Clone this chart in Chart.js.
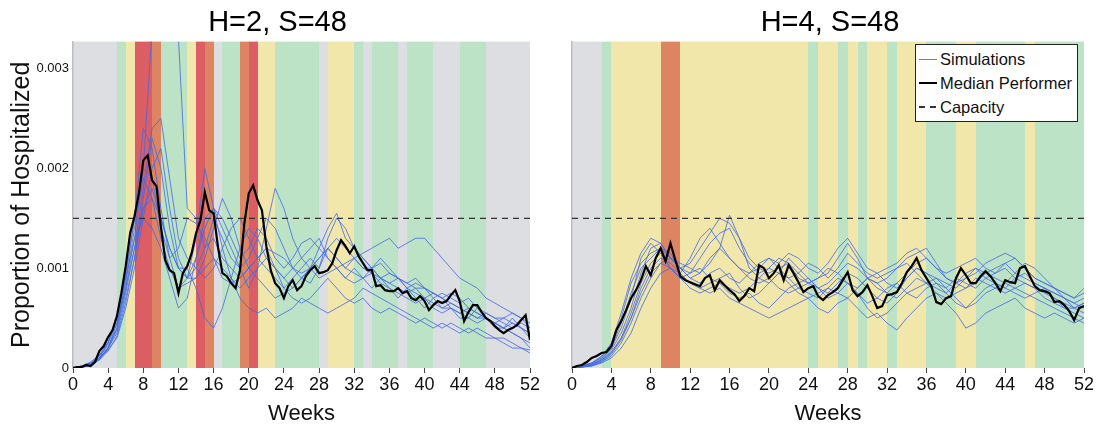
<!DOCTYPE html>
<html>
<head>
<meta charset="utf-8">
<script src="https://cdn.jsdelivr.net/npm/chart.js@4.4.1/dist/chart.umd.min.js"></script>
<style>
  html, body { margin: 0; padding: 0; background: #fff; overflow: hidden; width: 1096px; height: 428px; }
  #wrap { position: relative; width: 1096px; height: 428px; }
  #cL { position: absolute; left: 0; top: 0; }
  #cR { position: absolute; left: 564px; top: 0; }
  #legend { position: absolute; left: 915px; top: 44px; width: 161px; height: 74px; padding-top: 2px;
    border: 1.5px solid #222; background: #fff; font-family: "Liberation Sans", Arial, sans-serif; font-size: 16.5px; color: #111; }
  #legend .row { height: 24px; display: flex; align-items: center; white-space: nowrap; }
  #legend .sw { display: inline-block; width: 18px; margin: 0 3px 0 3px; }
  #legend .sim { height: 1px; background: rgba(65,105,225,0.85); }
  #legend .med { height: 2px; background: #000; }
  #legend .cap { height: 1.5px; background: repeating-linear-gradient(to right, #333 0 6px, transparent 6px 11px); }
</style>
</head>
<body>
<div id="wrap">
  <canvas id="cL" width="555" height="428"></canvas>
  <canvas id="cR" width="532" height="428"></canvas>
  <div id="legend">
    <div class="row"><span class="sw sim"></span><span>Simulations</span></div>
    <div class="row"><span class="sw med"></span><span>Median Performer</span></div>
    <div class="row"><span class="sw cap"></span><span>Capacity</span></div>
  </div>
</div>
<script>
// ---------- axis ticks ----------
const weekTicks = [0, 4, 8, 12, 16, 20, 24, 28, 32, 36, 40, 44, 48, 52];
const yTicks = [0, 0.001, 0.002, 0.003];
const yTickLabels = ['0', '0.001', '0.002', '0.003'];
const yMax = 0.00327;
const capacity = 0.0015;

// ---------- policy bands (week edges and level per band) ----------
const leftBandEdges = [0,5,6,7,9,10,13,14,15,16,17,19,20,21,23,28,29,32,33,34,37,38,41,44,47,52];
const leftBandLevels = ['gray','green','yellow','red','orange','green','yellow','red','orange','gray','green','orange','red','yellow','green','gray','yellow','green','gray','green','gray','green','gray','green','gray'];
const rightBandEdges = [0,3,4,9,11,24,25,27,28,29,30,32,33,36,39,41,46,47,52];
const rightBandLevels = ['gray','green','yellow','orange','yellow','green','yellow','green','yellow','green','yellow','green','yellow','green','yellow','green','yellow','green'];

// ---------- median performer (half-week steps, weeks 0..52) ----------
const medianLeft = [0,0.00001,0.00001,0.00003,0.00002,0.00006,0.00017,0.00022,0.00031,0.00038,
0.00052,0.00075,0.00102,0.00135,0.00152,0.00175,0.00208,0.00213,0.00188,0.00182,
0.00142,0.00108,0.00098,0.00095,0.00075,0.00095,0.00102,0.00115,0.00135,0.00148,
0.00176,0.00158,0.00155,0.00121,0.00095,0.00092,0.00085,0.0008,0.00098,0.00145,
0.00175,0.00183,0.00168,0.00158,0.00122,0.00098,0.00085,0.0008,0.0007,0.00082,
0.00088,0.00078,0.00082,0.00092,0.00098,0.00102,0.00095,0.00096,0.00098,0.00105,
0.00118,0.00128,0.00122,0.00115,0.00122,0.00112,0.00105,0.00098,0.00098,0.00082,
0.00083,0.00078,0.00077,0.00077,0.0008,0.00075,0.00077,0.0007,0.00068,0.00072,
0.00067,0.00058,0.00063,0.00067,0.00065,0.00067,0.00073,0.00078,0.00067,0.00047,
0.00056,0.00063,0.00063,0.00056,0.0005,0.00047,0.00042,0.00038,0.00035,0.00038,
0.0004,0.00043,0.00048,0.00053,0.00028];

const medianRight = [0,0.00002,0.00003,0.00006,0.0001,0.00012,0.00015,0.00016,0.00022,0.00038,
0.00047,0.00058,0.0007,0.00078,0.00088,0.00102,0.00093,0.0011,0.0012,0.00107,
0.00125,0.00108,0.00092,0.00088,0.00086,0.00084,0.00082,0.0009,0.00093,0.00078,
0.00088,0.00083,0.00078,0.00074,0.00067,0.00072,0.0008,0.00077,0.00103,0.001,
0.0009,0.00095,0.00103,0.00088,0.00103,0.00095,0.00086,0.00076,0.0008,0.00082,
0.00072,0.00068,0.00073,0.00076,0.0008,0.00088,0.00096,0.00078,0.00072,0.00076,
0.00083,0.00072,0.0006,0.00062,0.00073,0.00074,0.00076,0.00085,0.00096,0.00102,
0.0011,0.00098,0.0009,0.00082,0.00066,0.00064,0.0007,0.00072,0.0009,0.001,
0.00093,0.00085,0.00085,0.00092,0.00097,0.00092,0.00085,0.00077,0.00088,0.00086,
0.00085,0.001,0.00102,0.00092,0.00082,0.00078,0.00077,0.00075,0.00066,0.00067,
0.00063,0.00057,0.00048,0.0006,0.00062];

// ---------- simulations (weekly, weeks 0..52) ----------
const simL1 = [0,0.00002,0.00005,0.0001,0.0002,0.0004,0.0008,0.0013,0.002,0.0034,0.0046,0.0042,0.0033,0.0016,0.0015,0.0012,0.0013,0.0011,0.001,0.0009,0.001,0.0011,0.0012,0.001,0.0009,0.001,0.0011,0.0012,0.0013,0.0011,0.001,0.0009,0.001,0.0009,0.0008,0.0009,0.0008,0.0007,0.0008,0.0007,0.0006,0.0007,0.0006,0.0006,0.0005,0.0005,0.0006,0.0005,0.0004,0.0004,0.0005,0.0004,0.00035];
const simL2 = [0,0.00001,0.00004,0.0001,0.00025,0.00045,0.0008,0.0012,0.0018,0.0024,0.0025,0.0019,0.0013,0.0011,0.001,0.0009,0.001,0.0012,0.0014,0.0015,0.0013,0.0011,0.001,0.0009,0.0008,0.0009,0.001,0.0011,0.001,0.0012,0.0013,0.0012,0.0011,0.001,0.001,0.0009,0.00085,0.0008,0.00075,0.0008,0.0007,0.00065,0.0006,0.00065,0.0006,0.00055,0.0005,0.0005,0.00045,0.0004,0.00035,0.0003,0.00025];
const simL3 = [0,0.00002,0.00003,0.00012,0.00022,0.0004,0.0009,0.0015,0.0024,0.0022,0.0016,0.0011,0.0008,0.0009,0.0013,0.002,0.0016,0.0012,0.0009,0.0008,0.0009,0.001,0.0011,0.001,0.0009,0.0008,0.0009,0.001,0.0011,0.0012,0.0011,0.001,0.00095,0.0009,0.001,0.0011,0.001,0.0009,0.00085,0.0009,0.0008,0.00075,0.0007,0.00075,0.0007,0.0006,0.00055,0.0005,0.00045,0.0005,0.00045,0.0004,0.00035];
const simL4 = [0,0.00001,0.00003,0.00008,0.0002,0.00035,0.0007,0.0011,0.0016,0.0018,0.0015,0.0012,0.001,0.001,0.0008,0.0005,0.0004,0.0006,0.0009,0.0012,0.0014,0.0013,0.0011,0.001,0.0008,0.0007,0.00065,0.0007,0.0008,0.0009,0.0008,0.0007,0.00065,0.0007,0.0006,0.00055,0.0006,0.00055,0.0005,0.00045,0.0005,0.00045,0.0004,0.00045,0.0004,0.00035,0.0004,0.00035,0.0003,0.0003,0.00025,0.0002,0.00015];
const simL5 = [0,0.00002,0.00005,0.00012,0.00025,0.0005,0.0009,0.0013,0.0015,0.0014,0.0012,0.0009,0.0006,0.0007,0.0011,0.0015,0.0016,0.0014,0.0012,0.001,0.0008,0.001,0.0014,0.0018,0.0016,0.0013,0.0011,0.001,0.0009,0.00095,0.001,0.0009,0.00085,0.0009,0.00095,0.00085,0.0008,0.00075,0.0007,0.00065,0.0007,0.0006,0.00055,0.0006,0.00055,0.0005,0.00045,0.0005,0.00045,0.0004,0.00045,0.0004,0.0003];
const simL6 = [0,0.00001,0.00002,0.0001,0.00018,0.0003,0.0006,0.001,0.0015,0.002,0.0022,0.0016,0.0011,0.0009,0.0009,0.0011,0.0014,0.0017,0.0015,0.0012,0.001,0.0009,0.0008,0.0007,0.00075,0.0008,0.0009,0.001,0.0012,0.0014,0.00155,0.0013,0.0012,0.0011,0.001,0.00105,0.00095,0.0009,0.00085,0.0008,0.0008,0.00075,0.0007,0.00065,0.0006,0.00055,0.0005,0.00055,0.0005,0.00045,0.0004,0.00045,0.0004];
const simL7 = [0,0.00002,0.00004,0.0001,0.0002,0.00045,0.00085,0.0014,0.0019,0.0017,0.0013,0.001,0.0008,0.00085,0.0009,0.001,0.0011,0.001,0.0009,0.0007,0.0006,0.00055,0.0006,0.0005,0.00055,0.0006,0.0007,0.00065,0.0006,0.00055,0.0006,0.00065,0.0007,0.0008,0.00075,0.0007,0.00065,0.0006,0.00055,0.0005,0.00045,0.0004,0.00045,0.0004,0.00035,0.0004,0.00035,0.0003,0.0003,0.00025,0.0002,0.0002,0.00018];
const simL8 = [0,0.00001,0.00003,0.00009,0.0002,0.00038,0.00075,0.0012,0.0016,0.0017,0.0015,0.0012,0.001,0.0009,0.0011,0.0014,0.0016,0.0015,0.0013,0.0011,0.0012,0.0014,0.0013,0.0011,0.001,0.0011,0.00125,0.0013,0.0012,0.0011,0.001,0.00105,0.0011,0.001,0.00095,0.0009,0.00095,0.0009,0.0008,0.00085,0.0008,0.0007,0.00075,0.0007,0.00065,0.0007,0.0006,0.00055,0.0005,0.0005,0.00055,0.0005,0.00045];
const simL9 = [0,0.00002,0.00006,0.00013,0.00026,0.0005,0.00095,0.0015,0.002,0.0019,0.0014,0.0011,0.0012,0.0015,0.00145,0.0013,0.0011,0.0009,0.00085,0.0009,0.001,0.0011,0.0012,0.00115,0.0011,0.001,0.00095,0.001,0.0011,0.0012,0.0011,0.001,0.0011,0.00115,0.0012,0.00125,0.0013,0.0012,0.00125,0.0013,0.0013,0.0012,0.0011,0.001,0.0009,0.00085,0.0008,0.0007,0.00065,0.0006,0.00055,0.0005,0.0004];
const simL10 = [0,0.00001,0.00003,0.00008,0.00017,0.00032,0.00065,0.0011,0.0017,0.0023,0.002,0.0014,0.001,0.0009,0.001,0.0012,0.0015,0.0013,0.0011,0.001,0.0011,0.0013,0.0015,0.0014,0.0012,0.001,0.0009,0.00085,0.001,0.0013,0.0015,0.0014,0.0012,0.0011,0.001,0.0009,0.00085,0.0009,0.0008,0.00075,0.0007,0.00075,0.0007,0.0006,0.00055,0.0006,0.00055,0.0005,0.00045,0.0004,0.00035,0.0003,0.0002];

const simR1 = [0,0.00002,0.00005,0.0001,0.0002,0.00045,0.00075,0.001,0.0011,0.0012,0.0011,0.001,0.00105,0.0012,0.00135,0.0015,0.00145,0.0013,0.0011,0.001,0.00095,0.001,0.00105,0.0009,0.00085,0.0009,0.001,0.00095,0.00085,0.0008,0.0009,0.00095,0.00085,0.0008,0.0009,0.001,0.00095,0.00085,0.0008,0.0009,0.00085,0.0008,0.0009,0.00095,0.001,0.0009,0.00085,0.0008,0.00075,0.0007,0.00065,0.0006,0.00065];
const simR2 = [0,0.00001,0.00003,0.00007,0.00015,0.0003,0.00055,0.00085,0.00105,0.00115,0.001,0.00095,0.0011,0.0013,0.0014,0.00125,0.0011,0.001,0.0009,0.00085,0.0009,0.0008,0.00075,0.0008,0.00085,0.0009,0.00095,0.0011,0.00125,0.0011,0.0009,0.0008,0.00075,0.00085,0.00095,0.00105,0.0011,0.001,0.0009,0.00085,0.0008,0.00085,0.00095,0.001,0.00105,0.00095,0.0009,0.00085,0.0008,0.00075,0.0007,0.0006,0.00055];
const simR3 = [0,0.00002,0.00004,0.00008,0.00018,0.00035,0.0006,0.00095,0.0012,0.00125,0.0011,0.001,0.0009,0.00095,0.00105,0.0012,0.00153,0.0013,0.001,0.0009,0.00085,0.00095,0.0011,0.001,0.0009,0.0008,0.00075,0.00085,0.00095,0.0009,0.0008,0.0007,0.00065,0.00075,0.0009,0.001,0.00095,0.0009,0.00085,0.0008,0.0009,0.001,0.0009,0.00085,0.0008,0.0009,0.00095,0.00085,0.0008,0.00075,0.0007,0.00065,0.0007];
const simR4 = [0,0.00001,0.00002,0.00005,0.0001,0.0002,0.00035,0.0006,0.0008,0.00095,0.001,0.0009,0.00085,0.0008,0.00075,0.0008,0.0007,0.00065,0.0006,0.00055,0.0005,0.00055,0.0006,0.00065,0.0007,0.0006,0.00055,0.00065,0.0007,0.0006,0.0005,0.00055,0.00045,0.00038,0.0005,0.0006,0.0007,0.00075,0.00065,0.00055,0.0004,0.00045,0.00055,0.0006,0.00065,0.0007,0.0006,0.00055,0.0005,0.00055,0.0005,0.00045,0.0005];
const simR5 = [0,0.00002,0.00005,0.00012,0.00022,0.0005,0.00085,0.00105,0.00115,0.0012,0.00115,0.001,0.0009,0.00085,0.00095,0.001,0.0009,0.00085,0.00095,0.00105,0.0011,0.001,0.0009,0.00095,0.00105,0.001,0.0009,0.001,0.00115,0.00105,0.00095,0.0009,0.00095,0.001,0.0011,0.00115,0.0012,0.00105,0.0009,0.00085,0.0009,0.00095,0.00105,0.0011,0.00115,0.0011,0.001,0.0009,0.00085,0.0008,0.00075,0.0007,0.00075];
const simR6 = [0,0.00001,0.00003,0.00008,0.00016,0.0003,0.0005,0.0008,0.001,0.0011,0.00105,0.00095,0.00085,0.0008,0.00085,0.0009,0.00095,0.0008,0.0007,0.00075,0.00085,0.00095,0.0009,0.0008,0.00075,0.0007,0.0008,0.0009,0.00085,0.00075,0.00065,0.0007,0.0008,0.00085,0.00075,0.0007,0.0008,0.00085,0.00075,0.00065,0.0006,0.0007,0.0008,0.00085,0.0008,0.00075,0.0007,0.00075,0.0008,0.0007,0.0006,0.00055,0.0005];
const simR7 = [0,0.00002,0.00004,0.00009,0.0002,0.0004,0.0007,0.0011,0.00125,0.00115,0.001,0.0009,0.00095,0.0011,0.00125,0.00135,0.0014,0.0012,0.00105,0.00095,0.001,0.0011,0.00105,0.00095,0.00085,0.0008,0.00085,0.00095,0.00105,0.001,0.0009,0.00085,0.0009,0.001,0.00105,0.00095,0.00085,0.0008,0.00075,0.00085,0.00095,0.001,0.00095,0.0009,0.00085,0.00095,0.00105,0.001,0.0009,0.0008,0.0007,0.00065,0.0006];
const simR8 = [0,0.00001,0.00003,0.00006,0.00012,0.00025,0.00045,0.0007,0.0009,0.00105,0.0011,0.001,0.00095,0.001,0.0009,0.00085,0.0008,0.00075,0.0008,0.0009,0.001,0.00095,0.00085,0.00075,0.0007,0.00075,0.0008,0.00075,0.0007,0.0008,0.0009,0.00085,0.00075,0.0007,0.0008,0.0009,0.00085,0.00075,0.0007,0.00075,0.0008,0.0009,0.00085,0.0008,0.00075,0.0008,0.00085,0.0008,0.0007,0.00065,0.0006,0.0006,0.00065];
const simR9 = [0,0.00002,0.00005,0.00011,0.00025,0.00055,0.0009,0.00115,0.0013,0.00125,0.0011,0.00105,0.001,0.00095,0.0011,0.0012,0.0011,0.001,0.00095,0.001,0.0011,0.00105,0.00115,0.0011,0.001,0.00095,0.00105,0.0012,0.0013,0.00115,0.001,0.00095,0.001,0.00105,0.00115,0.0012,0.0011,0.001,0.00095,0.001,0.00105,0.0011,0.001,0.00095,0.00105,0.0011,0.001,0.0009,0.00085,0.0008,0.00075,0.0007,0.0008];
const simR10 = [0,0.00001,0.00002,0.00006,0.00014,0.00028,0.0005,0.00075,0.00095,0.00105,0.001,0.0009,0.0008,0.00075,0.0008,0.00085,0.00075,0.0007,0.00075,0.00065,0.0006,0.0007,0.0008,0.00085,0.0009,0.0008,0.0007,0.00075,0.00085,0.00075,0.0006,0.0005,0.00055,0.00065,0.00075,0.0008,0.00085,0.0009,0.0008,0.0007,0.0006,0.00065,0.00075,0.0008,0.00085,0.0008,0.00075,0.0007,0.00065,0.0006,0.00055,0.0005,0.00045];

const simsLeft = [simL1, simL2, simL3, simL4, simL5, simL6, simL7, simL8, simL9, simL10];
const simsRight = [simR1, simR2, simR3, simR4, simR5, simR6, simR7, simR8, simR9, simR10];

// ---------- styling ----------
const bandColors = { gray: '#dddee2', green: '#bde3c6', yellow: '#f1e7ab', orange: '#dd8463', red: '#dc5d63' };
const simColor = 'rgba(65,105,225,0.8)';
const FONT = '"Liberation Sans", Arial, Helvetica, sans-serif';
Chart.defaults.font.family = FONT;
Chart.defaults.color = '#111';

const bandPlugin = {
  id: 'bands',
  beforeDraw(chart, args, opts) {
    const { ctx, chartArea: a, scales: { x } } = chart;
    ctx.save();
    for (let i = 0; i < opts.levels.length; i++) {
      const x0 = Math.round(x.getPixelForValue(opts.edges[i]));
      const x1 = Math.round(x.getPixelForValue(opts.edges[i + 1]));
      ctx.fillStyle = bandColors[opts.levels[i]];
      ctx.fillRect(x0, a.top, x1 - x0, a.bottom - a.top);
    }
    ctx.restore();
  }
};

function toXY(arr) {
  const step = 52 / (arr.length - 1);
  return arr.map((v, k) => ({ x: k * step, y: v }));
}

function buildChart(id, o) {
  const datasets = [];
  o.sims.forEach((arr, i) => datasets.push({
    label: i === 0 ? 'Simulations' : 'Simulation ' + (i + 1),
    data: toXY(arr), borderColor: simColor, borderWidth: 1, pointRadius: 0, tension: 0, order: 2
  }));
  datasets.push({ label: 'Median Performer', data: toXY(o.median), borderColor: '#000', borderWidth: 2.2,
    pointRadius: 0, tension: 0, order: 0 });
  datasets.push({ label: 'Capacity', data: [{ x: 0, y: capacity }, { x: 52, y: capacity }], borderColor: '#333',
    borderWidth: 1.3, borderDash: [6, 5], pointRadius: 0, order: 1 });

  return new Chart(document.getElementById(id), {
    type: 'line',
    data: { datasets },
    options: {
      responsive: false, animation: false, events: [],
      layout: { padding: 0 },
      plugins: {
        legend: { display: false }, tooltip: { enabled: false },
        title: { display: true, text: o.title, color: '#000', font: { size: 29, weight: 'normal' },
          padding: { top: 6, bottom: 0.8 } },
        bands: { edges: o.edges, levels: o.levels }
      },
      scales: {
        x: {
          type: 'linear', min: 0, max: 52,
          afterBuildTicks: s => { s.ticks = weekTicks.map(v => ({ value: v })); },
          afterFit: s => { s.height = 60; },
          ticks: { font: { size: 18 }, color: '#111', padding: 1, maxRotation: 0, autoSkip: false },
          grid: { display: true, drawOnChartArea: false, drawTicks: true, tickLength: 5, color: '#444', lineWidth: 1 },
          border: { display: false },
          title: { display: true, text: 'Weeks', font: { size: 22 }, color: '#111', padding: { top: 0, bottom: 1 } }
        },
        y: {
          type: 'linear', min: 0, max: yMax,
          afterBuildTicks: s => { s.ticks = yTicks.map(v => ({ value: v })); },
          afterFit: s => { s.width = o.yWidth; },
          ticks: { display: o.showY, font: { size: 13 }, color: '#111', padding: 4,
            callback: v => { const i = yTicks.indexOf(v); return i >= 0 ? yTickLabels[i] : ''; } },
          grid: { display: false, drawTicks: false },
          border: { display: true, color: '#bdbdbd', width: 1.5 },
          title: { display: o.showY, text: 'Proportion of Hospitalized', font: { size: 25 }, color: '#111',
            padding: { top: 7, bottom: 0 } }
        },
        // empty spacer on the right so the title stays centred on the whole panel
        yPad: {
          type: 'linear', position: 'right', min: 0, max: 1, display: true,
          afterFit: s => { s.width = o.rightGap; },
          ticks: { display: false }, grid: { display: false, drawTicks: false }, border: { display: false },
          title: { display: false }
        }
      }
    },
    plugins: [bandPlugin]
  });
}

buildChart('cL', { title: 'H=2, S=48', sims: simsLeft, median: medianLeft, edges: leftBandEdges,
  levels: leftBandLevels, yWidth: 73, rightGap: 25, showY: true });
buildChart('cR', { title: 'H=4, S=48', sims: simsRight, median: medianRight, edges: rightBandEdges,
  levels: rightBandLevels, yWidth: 8, rightGap: 12, showY: false });
</script>
</body>
</html>
